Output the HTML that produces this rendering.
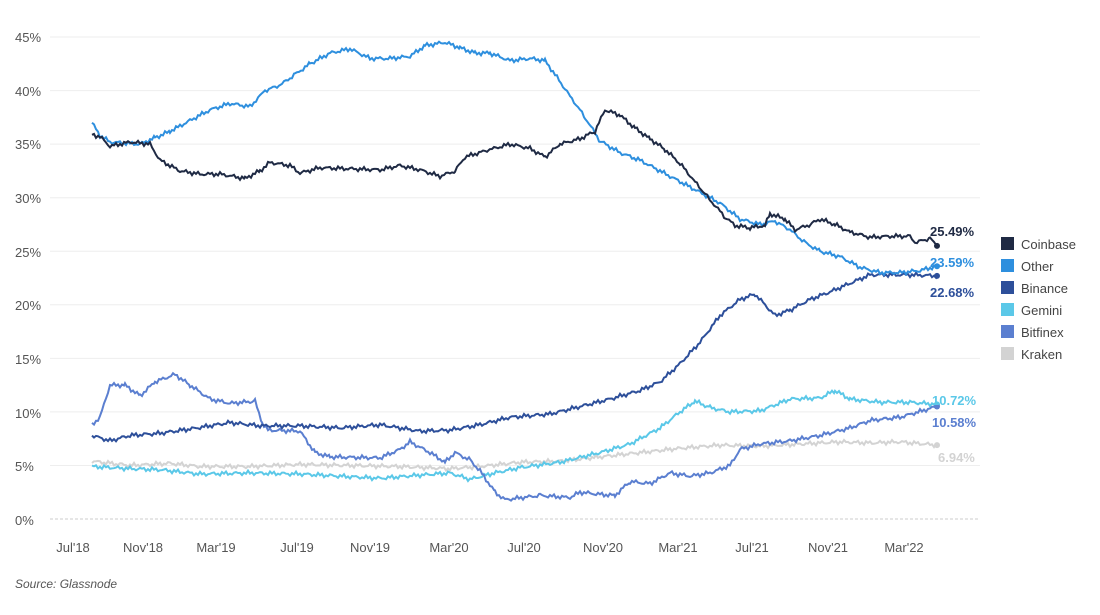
<!DOCTYPE html>
<html><head><meta charset="utf-8">
<style>
body{margin:0;background:#fff;font-family:"Liberation Sans",sans-serif;}
svg text{font-family:"Liberation Sans",sans-serif;}
</style></head>
<body>
<svg id="c" width="1100" height="610" xmlns="http://www.w3.org/2000/svg">
<g id="grid"></g>
<g id="lines"></g>
<g font-size="13" fill="#555">
<text x="15" y="42">45%</text><text x="15" y="96">40%</text><text x="15" y="149">35%</text>
<text x="15" y="203">30%</text><text x="15" y="257">25%</text><text x="15" y="310">20%</text>
<text x="15" y="364">15%</text><text x="15" y="418">10%</text><text x="15" y="471">5%</text>
<text x="15" y="525">0%</text>
</g>
<g font-size="13" fill="#555" text-anchor="middle">
<text x="73" y="552">Jul'18</text><text x="143" y="552">Nov'18</text><text x="216" y="552">Mar'19</text>
<text x="297" y="552">Jul'19</text><text x="370" y="552">Nov'19</text><text x="449" y="552">Mar'20</text>
<text x="524" y="552">Jul'20</text><text x="603" y="552">Nov'20</text><text x="678" y="552">Mar'21</text>
<text x="752" y="552">Jul'21</text><text x="828" y="552">Nov'21</text><text x="904" y="552">Mar'22</text>
</g>
<g font-size="13" font-weight="bold">
<text x="930" y="236" fill="#1f2a44">25.49%</text>
<text x="930" y="267" fill="#2e8fde">23.59%</text>
<text x="930" y="297" fill="#2d4f9a">22.68%</text>
<text x="932" y="405" fill="#5bc8e8">10.72%</text>
<text x="932" y="427" fill="#5b7fd0">10.58%</text>
<text x="938" y="462" fill="#d3d3d3">6.94%</text>
</g>
<g font-size="13" fill="#444">
<rect x="1001" y="237" width="13" height="13" fill="#1f2a44"/><text x="1021" y="249">Coinbase</text>
<rect x="1001" y="259" width="13" height="13" fill="#2e8fde"/><text x="1021" y="271">Other</text>
<rect x="1001" y="281" width="13" height="13" fill="#2d4f9a"/><text x="1021" y="293">Binance</text>
<rect x="1001" y="303" width="13" height="13" fill="#5bc8e8"/><text x="1021" y="315">Gemini</text>
<rect x="1001" y="325" width="13" height="13" fill="#5b7fd0"/><text x="1021" y="337">Bitfinex</text>
<rect x="1001" y="347" width="13" height="13" fill="#d3d3d3"/><text x="1021" y="359">Kraken</text>
</g>
<text x="15" y="588" font-size="12" font-style="italic" fill="#555">Source: Glassnode</text>
</svg>
<script>
const Y=p=>519-p*10.71;
const g=document.getElementById('grid');let h='';
for(let i=0;i<=9;i++){const y=Y(i*5);h+=`<line x1="50" x2="980" y1="${y}" y2="${y}" stroke="${i==0?'#ccc':'#eee'}" stroke-width="1" ${i==0?'stroke-dasharray="3,2"':''}/>`;}
g.innerHTML=h;
const S=[
["#d3d3d3",[92,5.4,130,5,170,5.2,200,4.9,250,4.9,300,5.1,350,5,400,4.9,450,4.7,480,4.9,520,5.3,560,5.4,600,5.8,640,6.2,680,6.6,720,6.9,760,6.8,800,7,840,7.2,870,7.1,900,7.2,937,6.9]],
["#5bc8e8",[92,4.9,130,4.7,160,4.6,200,4.2,250,4.3,300,4.2,340,4,380,3.8,420,4.1,450,4.3,470,3.7,490,4.2,520,4.8,560,5.3,600,6.2,630,7,660,8.5,680,10,695,11,710,10.4,730,10,760,10.1,790,11.2,820,11.3,835,12,850,11.2,880,10.9,910,10.9,937,10.7]],
["#5b7fd0",[92,8.8,100,9.5,110,12.5,125,12.5,140,11.5,155,12.8,175,13.5,190,12.5,210,11.2,230,10.8,255,11,262,9,268,8.3,300,8.2,315,6.2,330,5.8,380,5.7,400,6.5,410,7.2,430,6.2,445,5.3,455,6.2,470,5.5,480,4.5,495,2.5,505,1.8,540,2.2,570,2,580,2.5,600,2.3,615,2.2,630,3.5,650,3.3,670,4.3,690,4,710,4.3,730,5,740,6.5,760,7,790,7.3,820,7.8,850,8.5,870,9.2,900,9.5,937,10.5]],
["#2d4f9a",[92,7.8,110,7.3,130,7.8,160,8,190,8.4,230,9,260,8.7,300,8.7,340,8.5,380,8.8,420,8.2,450,8.3,480,8.8,510,9.5,550,9.8,580,10.5,610,11.2,640,12,660,12.8,680,14.5,700,16.5,720,19,740,20.5,755,21,765,20,775,19,790,19.5,810,20.5,830,21.2,850,22,870,22.8,890,22.8,910,22.8,937,22.7]],
["#2e8fde",[92,37,100,35.8,110,35.2,140,35,155,35.6,170,36.2,190,37.2,210,38.2,230,38.8,250,38.5,265,40,280,40.5,295,41.5,310,42.5,330,43.5,350,43.9,370,43,390,43,410,43.2,425,44.2,445,44.5,460,44,475,43.5,490,43.5,510,42.8,530,43,545,42.8,555,41.5,570,39.5,585,37.5,600,35.3,620,34.2,640,33.5,660,32.5,680,31.5,700,30.5,720,29.5,740,28,760,27.5,775,27.8,790,27,805,25.8,820,25,840,24.5,860,23.5,880,23,900,23,920,23.2,937,23.6]],
["#1f2a44",[92,35.9,100,35.7,110,34.8,130,35.2,150,35,160,33.5,180,32.5,200,32.2,220,32.2,245,31.8,260,32.5,270,33.3,290,33,300,32.3,320,32.8,350,32.7,380,32.6,400,33,420,32.6,440,32,455,32.5,465,33.8,490,34.5,510,35,530,34.6,545,33.8,560,35,580,35.5,595,36.2,605,38.2,620,37.7,635,36.5,650,35.5,665,34.5,680,33.2,695,31.5,710,29.8,725,28.2,735,27.4,750,27.2,765,27.4,770,28.5,785,28,795,27,810,27.5,820,28,835,27.5,850,26.8,870,26.3,890,26.4,910,26.4,915,25.8,930,26.2,937,25.5]]
];
let L='';
S.forEach(([c,d],k)=>{let pts=[];for(let i=0;i<d.length-2;i+=2){const x0=d[i],y0=d[i+1],x1=d[i+2],y1=d[i+3];for(let x=x0;x<x1;x+=2){const t=(x-x0)/(x1-x0);const n=Math.sin(x*1.7+k)*0.12+Math.sin(x*0.53+k*2)*0.1;pts.push(x+','+Y(y0+(y1-y0)*t+n).toFixed(1));}}
pts.push(d[d.length-2]+','+Y(d[d.length-1]));
L+=`<polyline fill="none" stroke="${c}" stroke-width="2" points="${pts.join(' ')}"/>`;
L+=`<circle cx="${d[d.length-2]}" cy="${Y(d[d.length-1])}" r="3" fill="${c}"/>`;});
document.getElementById('lines').innerHTML=L;
</script>
</body></html>
